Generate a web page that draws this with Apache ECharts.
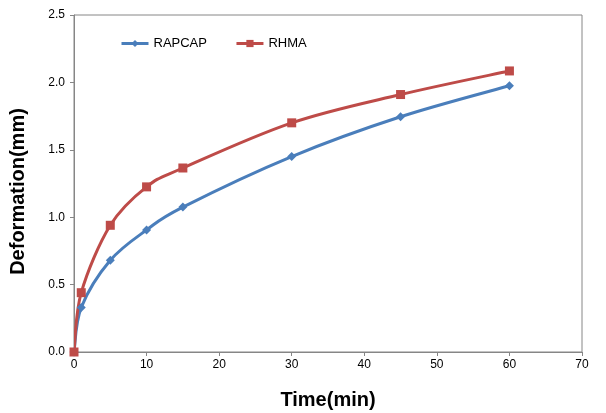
<!DOCTYPE html>
<html><head><meta charset="utf-8">
<script src="https://cdn.jsdelivr.net/npm/echarts@6/dist/echarts.min.js"></script>
<style>html,body{margin:0;padding:0;background:#fff}#c{width:606px;height:413px}</style>
</head><body><div id="c"></div>
<script>
const times = [0, 1, 5, 10, 15, 30, 45, 60];
const rapcap = [0, 0.33, 0.68, 0.905, 1.075, 1.45, 1.745, 1.975];
const rhma = [0, 0.44, 0.94, 1.225, 1.365, 1.70, 1.91, 2.085];
const xTicks = [0, 10, 20, 30, 40, 50, 60, 70];
const yTicks = [0.0, 0.5, 1.0, 1.5, 2.0, 2.5];

const BLUE = '#4A7EBB', RED = '#BE4B48';
const font = 'Liberation Sans, Arial, sans-serif';

function smoothCurve(values, color) {
  return {
    type: 'custom', silent: true, z: 2,
    data: [[times[0], values[0]]],
    encode: {x: 0, y: 1},
    clip: true,
    renderItem: function (params, api) {
      const P = times.map((t, i) => api.coord([t, values[i]]));
      const n = P.length;
      const children = [];
      for (let i = 0; i < n - 1; i++) {
        const p0 = P[Math.max(i - 1, 0)], p1 = P[i], p2 = P[i + 1], p3 = P[Math.min(i + 2, n - 1)];
        children.push({
          type: 'bezierCurve',
          shape: {
            x1: p1[0], y1: p1[1], x2: p2[0], y2: p2[1],
            cpx1: p1[0] + (p2[0] - p0[0]) / 6, cpy1: p1[1] + (p2[1] - p0[1]) / 6,
            cpx2: p2[0] - (p3[0] - p1[0]) / 6, cpy2: p2[1] - (p3[1] - p1[1]) / 6
          },
          style: {stroke: color, lineWidth: 3, fill: null, lineCap: 'round'}
        });
      }
      return {type: 'group', children: children};
    }
  };
}

const chart = echarts.init(document.getElementById('c'), null, {renderer: 'canvas'});
chart.setOption({
  animation: false,
  backgroundColor: '#fff',
  grid: {left: 74, right: 24, top: 15, bottom: 61, outerBoundsMode: 'none', containLabel: false, show: true, borderColor: '#868686', borderWidth: 1, backgroundColor: 'transparent'},
  legend: {
    left: 120, top: 37, padding: 0, itemGap: 28, itemWidth: 27, itemHeight: 9,
    textStyle: {fontFamily: font, fontSize: 13, color: '#000'},
    lineStyle: {opacity: 1, width: 3},
    data: ['RAPCAP', 'RHMA']
  },
  xAxis: {
    type: 'value', min: 0, max: 70, interval: 10,
    name: 'Time(min)', nameLocation: 'middle', nameGap: 38,
    nameTextStyle: {fontFamily: font, fontSize: 20, fontWeight: 'bold', color: '#000'},
    axisLine: {show: true, lineStyle: {color: '#868686', width: 1}},
    axisTick: {show: true, length: 4, inside: false, lineStyle: {color: '#868686'}},
    axisLabel: {fontFamily: font, fontSize: 12, color: '#000', margin: 7, formatter: v => xTicks.includes(v) ? String(v) : ''},
    splitLine: {show: false}
  },
  yAxis: {
    type: 'value', min: 0, max: 2.5, interval: 0.5,
    name: 'Deformation(mm)', nameLocation: 'middle', nameGap: 46,
    nameTextStyle: {fontFamily: font, fontSize: 20, fontWeight: 'bold', color: '#000', padding: [0, 16, 0, 0]},
    axisLine: {show: true, lineStyle: {color: '#868686', width: 1}},
    axisTick: {show: true, length: 4, inside: false, lineStyle: {color: '#868686'}},
    axisLabel: {fontFamily: font, fontSize: 12, color: '#000', margin: 9, formatter: v => yTicks.find(t => Math.abs(t - v) < 1e-9) !== undefined ? v.toFixed(1) : ''},
    splitLine: {show: false}
  },
  series: [
    smoothCurve(rapcap, BLUE),
    smoothCurve(rhma, RED),
    {
      name: 'RAPCAP', type: 'line', z: 3,
      data: times.map((t, i) => [t, rapcap[i]]),
      symbol: 'diamond', symbolSize: 9,
      itemStyle: {color: BLUE},
      lineStyle: {color: BLUE, width: 3, opacity: 0}
    },
    {
      name: 'RHMA', type: 'line', z: 3,
      data: times.map((t, i) => [t, rhma[i]]),
      symbol: 'rect', symbolSize: 9,
      itemStyle: {color: RED},
      lineStyle: {color: RED, width: 3, opacity: 0}
    }
  ]
});
</script></body></html>
